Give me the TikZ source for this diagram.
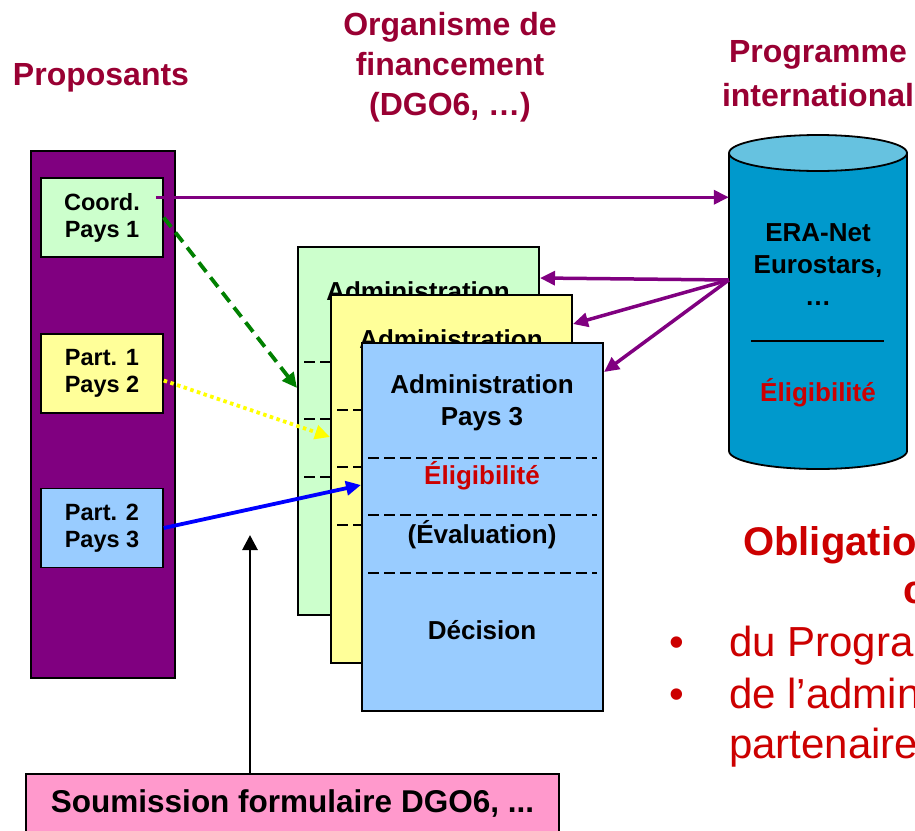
\documentclass[tikz,border=0pt]{standalone}
\usepackage{fontspec}
\setmainfont{Liberation Sans}
\usetikzlibrary{arrows.meta,calc}
\definecolor{purp}{HTML}{800080}
\definecolor{lgreen}{HTML}{CCFFCC}
\definecolor{lyellow}{HTML}{FFFF99}
\definecolor{lblue}{HTML}{99CCFF}
\definecolor{hdred}{HTML}{990033}
\definecolor{elired}{HTML}{CC0000}
\definecolor{cylbody}{HTML}{0099CC}
\definecolor{cyltop}{HTML}{66C2E0}
\definecolor{pinkfill}{HTML}{FF99CC}
\definecolor{dkgreen}{HTML}{008000}
\definecolor{arrblue}{HTML}{0000FF}
\definecolor{arryellow}{HTML}{FFFF00}
\newcommand{\fsz}[2]{\fontsize{#1}{#2}\selectfont}
\tikzset{
  hdr/.style={text=hdred, font=\bfseries\fsz{32}{40}, align=center, inner sep=0},
  pbox/.style={draw, line width=1.5pt, minimum width=122pt, minimum height=79pt, inner sep=0, font=\bfseries\fsz{23.5}{27}, align=center},
  adminrect/.style={draw, line width=2pt, minimum width=241pt, minimum height=368pt, anchor=north west, inner sep=0},
  sepline/.style={line width=1.3pt, dash pattern=on 11pt off 5pt},
  admintxt/.style={font=\bfseries\fsz{26}{32}, align=center, inner sep=0},
  cyltxt/.style={font=\bfseries\fsz{26}{32}, align=center, inner sep=0},
  parr/.style={draw=purp, line width=3.5pt, -{Triangle[length=15pt,width=14pt]}},
  garr/.style={draw=dkgreen, line width=3.8pt, dash pattern=on 12pt off 7pt, -{Triangle[length=15pt,width=14pt]}},
  yarr/.style={draw=arryellow, line width=3.8pt, dash pattern=on 3.5pt off 3.5pt, -{Triangle[length=15pt,width=14pt]}},
  barr/.style={draw=arrblue, line width=3.8pt, -{Triangle[length=15pt,width=14pt]}},
  karr/.style={draw=black, line width=2.8pt, -{Triangle[length=15pt,width=15pt]}},
  redtxt/.style={text=elired, inner sep=0, anchor=base west},
}
\newcommand{\mkadmin}[4]{%
  \begin{scope}[shift={(#2,#3)}]
    \node[adminrect, fill=#4] (#1) at (0,0) {};
    \draw[sepline] (7,116) -- (236,116);
    \draw[sepline] (7,173) -- (236,173);
    \draw[sepline] (7,231) -- (236,231);
    \node[admintxt] (#1t) at (121,45) {Administration};
  \end{scope}}
\begin{document}
\begin{tikzpicture}[x=1pt, y=-1pt]
\useasboundingbox (0,0) rectangle (915,830);
\clip (0,0) rectangle (915,830);
\fill[white] (0,0) rectangle (915,830);

% headers
\node[hdr] (h1) at (101,78) {Proposants};
\node[hdr] (h2) at (450,67) {Organisme de\\financement\\(DGO6, …)};
\node[hdr, font=\bfseries\fsz{32}{44}] (h3) at (818,74) {Programme\\international};

% proposants column
\node[draw, fill=purp, line width=2pt, minimum width=144pt, minimum height=527pt, inner sep=0] (prop) at (103,414.5) {};
\node[pbox, fill=lgreen] (c1) at (102,217.5) {Coord.\\Pays 1};
\node[pbox, fill=lyellow] (c2) at (102,373.5) {Part. 1\\Pays 2};
\node[pbox, fill=lblue] (c3) at (102,528) {Part. 2\\Pays 3};

% administration stack
\mkadmin{adm1}{297}{246}{lgreen}
\mkadmin{adm2}{330}{294}{lyellow}
\begin{scope}[shift={(361,342)}]
  \node[adminrect, fill=lblue] (adm3) at (0,0) {};
  \draw[sepline] (7,116) -- (236,116);
  \draw[sepline] (7,173) -- (236,173);
  \draw[sepline] (7,231) -- (236,231);
  \node[admintxt] (a3t) at (121,61) {Administration\\Pays 3};
  \node[admintxt, text=elired] (a3e) at (121,134) {Éligibilité};
  \node[admintxt] (a3v) at (121,193) {(Évaluation)};
  \node[admintxt] (a3d) at (121,288) {Décision};
\end{scope}

% cylinder
\fill[cylbody] (729,153) -- (729,451) arc[start angle=180, end angle=360, x radius=89pt, y radius=18pt] -- (907,153) -- cycle;
\draw[line width=1.8pt] (729,153) -- (729,451) arc[start angle=180, end angle=360, x radius=89pt, y radius=18pt] -- (907,153);
\draw[line width=1.8pt, fill=cyltop] (818,153) ellipse[x radius=89pt, y radius=18pt];
\node[inner sep=0, minimum width=178pt, minimum height=334pt] (cyl) at (818,302) {};
\node[cyltxt] (cyltext) at (818,265) {ERA-Net\\Eurostars,\\…};
\draw[line width=1.5pt] (751,341) -- (884,341);
\node[cyltxt, text=elired] (cylel) at (818,393) {Éligibilité};

% submission box
\node[draw, fill=pinkfill, line width=2pt, minimum width=533pt, minimum height=60pt, inner sep=0, font=\bfseries\fsz{31.5}{36}] (sub) at (292.5,804) {Soumission formulaire DGO6, ...};

% right text
\node[redtxt, font=\bfseries\fsz{40}{48}] (ob1) at (743,555) {Obligations de};
\node[redtxt, font=\bfseries\fsz{40}{48}] (ob2) at (903,603) {conformité};
\node[text=elired, inner sep=0, anchor=base, font=\fsz{42}{50}] (bul1) at (677,656) {•};
\node[text=elired, inner sep=0, anchor=base, font=\fsz{42}{50}] (bul2) at (677,708) {•};
\node[redtxt, font=\fsz{42}{50}] (it1) at (729,656) {du Programme};
\node[redtxt, font=\fsz{42}{50}] (it2) at (729,708) {de l’administration des};
\node[redtxt, font=\fsz{42}{50}] (it3) at (729,758) {partenaires};

% connectors
\coordinate (p0) at ($(c1.north east)+(-8,20)$);
\draw[parr] (p0) -- (p0 -| cyl.west);
\coordinate (cs) at ($(cyl.west)+(0,-22)$);
\draw[parr] (cs) -- ($(adm1.north east)+(0,32)$);
\draw[parr] (cs) -- ($(adm2.north east)+(0,30)$);
\draw[parr] (cs) -- ($(adm3.north east)+(0,30)$);
\draw[garr] (c1.east) -- ($(adm1.north west)+(0,142)$);
\draw[yarr] ($(c2.east)+(0,7)$) -- ($(adm2.north west)+(0,143)$);
\draw[barr] (c3.east) -- ($(adm3.north west)+(0,143)$);
\coordinate (up) at (250,535);
\draw[karr] (up |- sub.north) -- (up);
\end{tikzpicture}
\end{document}
